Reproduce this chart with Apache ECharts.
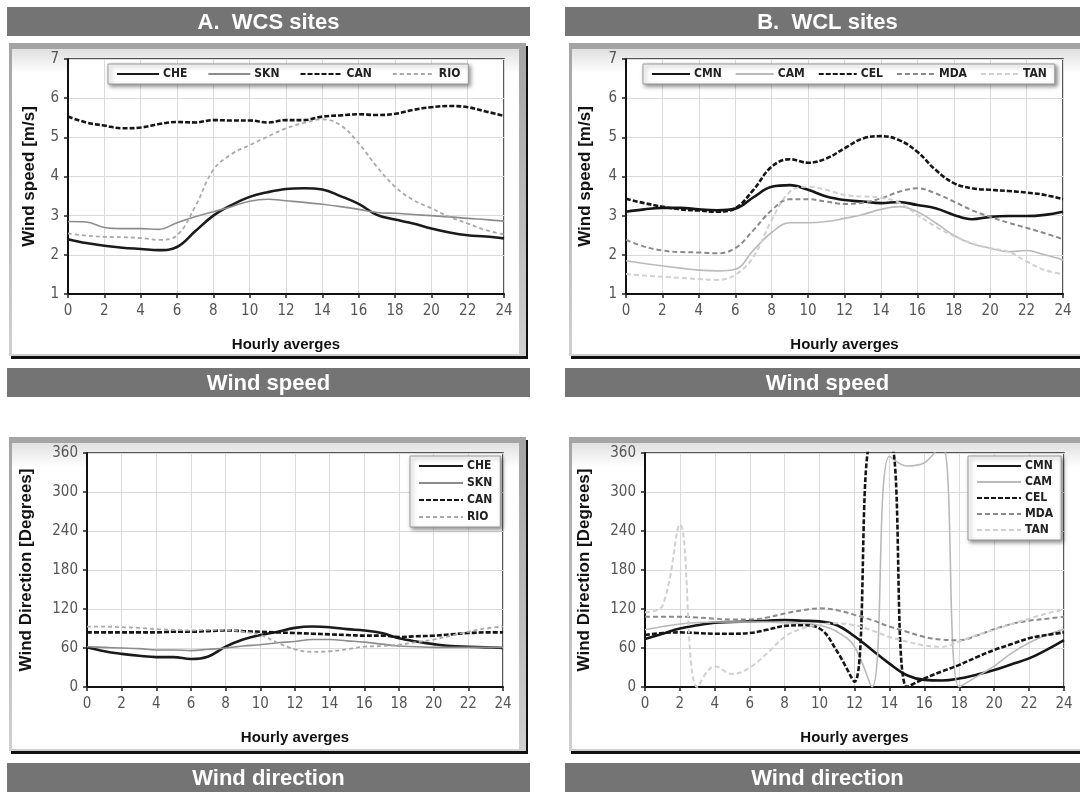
<!DOCTYPE html>
<html>
<head>
<meta charset="utf-8">
<title>Wind speed and direction</title>
<script src="https://cdn.jsdelivr.net/npm/echarts@6/dist/echarts.min.js"></script>
<style>
  html, body { margin: 0; padding: 0; background: #fff; }
  #chart { width: 1080px; height: 792px; }
</style>
</head>
<body>
<div id="chart"></div>
<script>
// hourly averages, 0..24 h
var hours = [0, 1, 2, 3, 4, 5, 6, 7, 8, 9, 10, 11, 12, 13, 14, 15, 16, 17, 18, 19, 20, 21, 22, 23, 24];
var speedTicks = [1, 7, 1];      // min, max, step
var dirTicks = [0, 360, 60];

// A. WCS sites - wind speed [m/s]
var cheSpeed = [2.40, 2.30, 2.23, 2.18, 2.15, 2.12, 2.20, 2.60, 3.00, 3.27, 3.48, 3.60, 3.68, 3.70, 3.67, 3.50, 3.30, 3.02, 2.90, 2.80, 2.67, 2.57, 2.50, 2.47, 2.42];
var sknSpeed = [2.85, 2.84, 2.70, 2.67, 2.67, 2.65, 2.82, 2.97, 3.10, 3.23, 3.37, 3.42, 3.38, 3.34, 3.29, 3.23, 3.16, 3.08, 3.06, 3.03, 3.00, 2.97, 2.93, 2.90, 2.86];
var canSpeed = [5.53, 5.38, 5.30, 5.23, 5.25, 5.34, 5.39, 5.38, 5.44, 5.43, 5.43, 5.38, 5.44, 5.44, 5.53, 5.56, 5.59, 5.57, 5.60, 5.70, 5.77, 5.80, 5.77, 5.66, 5.55];
var rioSpeed = [2.55, 2.49, 2.46, 2.45, 2.43, 2.38, 2.50, 3.23, 4.17, 4.57, 4.80, 5.02, 5.23, 5.37, 5.46, 5.31, 4.85, 4.25, 3.74, 3.40, 3.19, 2.97, 2.80, 2.63, 2.52];

// B. WCL sites - wind speed [m/s]
var cmnSpeed = [3.10, 3.16, 3.20, 3.20, 3.16, 3.14, 3.18, 3.47, 3.74, 3.78, 3.66, 3.49, 3.40, 3.36, 3.32, 3.35, 3.27, 3.19, 3.02, 2.91, 2.97, 2.99, 2.99, 3.02, 3.10];
var camSpeed = [1.85, 1.78, 1.72, 1.66, 1.61, 1.59, 1.63, 2.12, 2.57, 2.82, 2.82, 2.85, 2.93, 3.03, 3.16, 3.23, 3.10, 2.82, 2.50, 2.28, 2.17, 2.08, 2.11, 2.00, 1.87];
var celSpeed = [3.43, 3.32, 3.23, 3.16, 3.13, 3.10, 3.19, 3.66, 4.25, 4.44, 4.35, 4.46, 4.72, 4.97, 5.03, 4.93, 4.63, 4.17, 3.83, 3.70, 3.66, 3.63, 3.59, 3.53, 3.42];
var mdaSpeed = [2.38, 2.21, 2.11, 2.07, 2.06, 2.04, 2.17, 2.63, 3.14, 3.42, 3.42, 3.36, 3.30, 3.33, 3.44, 3.61, 3.70, 3.57, 3.36, 3.14, 2.97, 2.82, 2.69, 2.55, 2.40];
var tanSpeed = [1.51, 1.47, 1.44, 1.41, 1.38, 1.36, 1.49, 1.95, 2.89, 3.61, 3.74, 3.66, 3.53, 3.49, 3.46, 3.33, 3.02, 2.72, 2.48, 2.29, 2.17, 2.08, 1.83, 1.61, 1.51];

// A. WCS sites - wind direction [degrees]
var cheDir = [61, 55, 51, 48, 46, 46, 43, 47, 62, 73, 80, 85, 91, 93, 92, 89, 87, 83, 75, 70, 66, 63, 62, 61, 60];
var sknDir = [62, 61, 60, 59, 57, 57, 56, 58, 60, 63, 65, 68, 70, 73, 73, 71, 69, 66, 63, 62, 61, 61, 61, 61, 61];
var canDir = [84, 84, 84, 84, 84, 85, 85, 86, 87, 86, 85, 84, 83, 82, 81, 80, 79, 79, 77, 78, 79, 81, 83, 84, 84];
var rioDir = [93, 93, 92, 91, 89, 88, 87, 88, 88, 85, 80, 68, 58, 54, 55, 58, 62, 63, 65, 69, 73, 79, 85, 90, 93];

// B. WCL sites - wind direction [degrees] (values above 360 run off the top of the plot)
var cmnDir = [74, 82, 90, 95, 99, 100, 101, 102, 103, 102, 101, 95, 78, 57, 36, 18, 11, 10, 13, 19, 26, 35, 44, 57, 72];
var camDir = [88, 93, 97, 99, 100, 100, 100, 100, 99, 98, 95, 85, 62, 0, 355, 340, 345, 375, 0, 16, 32, 52, 68, 80, 89];
var celDir = [80, 83, 84, 83, 82, 82, 83, 88, 94, 95, 90, 55, 8, 380, 380, 0, 13, 24, 34, 46, 57, 66, 75, 80, 84];
var mdaDir = [108, 108, 108, 107, 105, 104, 104, 107, 113, 118, 121, 118, 111, 103, 93, 85, 77, 73, 72, 79, 89, 97, 102, 105, 108];
var tanDir = [115, 125, 250, 0, 32, 20, 30, 52, 77, 90, 96, 98, 95, 87, 77, 70, 64, 62, 70, 80, 88, 97, 105, 113, 119];

var wcsNames = ['CHE', 'SKN', 'CAN', 'RIO'];
var wclNames = ['CMN', 'CAM', 'CEL', 'MDA', 'TAN'];

var FONT = "'Liberation Sans', Arial, sans-serif";
var NARROW = "'Liberation Sans Narrow', 'DejaVu Sans Condensed', 'Liberation Sans', sans-serif";

// line look per station
var styles = {
    CHE: { color: '#1b1b1b', width: 2.6, type: 'solid' },
    SKN: { color: '#8c8c8c', width: 1.6, type: 'solid' },
    CAN: { color: '#151515', width: 2.6, type: [5, 2] },
    RIO: { color: '#a9a9a9', width: 1.8, type: [4, 3] },
    CMN: { color: '#161616', width: 2.6, type: 'solid' },
    CAM: { color: '#bababa', width: 1.6, type: 'solid' },
    CEL: { color: '#151515', width: 2.6, type: [5, 2] },
    MDA: { color: '#8a8a8a', width: 2.0, type: [5, 3] },
    TAN: { color: '#d0d0d0', width: 2.0, type: [5, 3] }
};

function pairs(vals) {
    return hours.map(function (h, i) { return [h, vals[i]]; });
}

function line(name, vals, idx) {
    var s = styles[name];
    return {
        name: name, type: 'line', xAxisIndex: idx, yAxisIndex: idx,
        data: pairs(vals), smooth: 0.4, symbol: 'none', clip: true,
        itemStyle: { color: s.color },
        lineStyle: { color: s.color, width: s.width, type: s.type }
    };
}

function xAxis(idx, gap) {
    return {
        type: 'value', gridIndex: idx, min: 0, max: 24, interval: 2,
        name: 'Hourly averges', nameLocation: 'middle', nameGap: gap,
        nameTextStyle: { fontFamily: FONT, fontWeight: 'bold', fontSize: 15, color: '#111' },
        axisLine: { onZero: false, lineStyle: { color: '#111', width: 2 } },
        axisTick: { length: 4, lineStyle: { color: '#222', width: 1.5 } },
        axisLabel: { fontFamily: NARROW, fontSize: 15, color: '#555', margin: 10 },
        splitLine: { show: true, lineStyle: { color: '#dadada', width: 1 } }
    };
}

function yAxis(idx, ticks, name, gap) {
    return {
        type: 'value', gridIndex: idx, min: ticks[0], max: ticks[1], interval: ticks[2],
        name: name, nameLocation: 'middle', nameGap: gap, nameRotate: 90,
        nameTextStyle: { fontFamily: FONT, fontWeight: 'bold', fontSize: 17, color: '#111' },
        axisLine: { show: true, onZero: false, lineStyle: { color: '#111', width: 2 } },
        axisTick: { show: true, length: 4, lineStyle: { color: '#222', width: 1.5 } },
        axisLabel: { fontFamily: NARROW, fontSize: 15, color: '#555', margin: 9 },
        splitLine: { show: true, lineStyle: { color: '#dadada', width: 1 } }
    };
}

// legend keys are plain line samples, no marker in the middle
function legend(names, pos, orient, gap, lineLen) {
    return Object.assign({
        data: names, orient: orient, itemGap: gap, itemWidth: lineLen, itemHeight: 10,
        padding: [4, 8], backgroundColor: '#fff', borderColor: '#9a9a9a', borderWidth: 1,
        shadowBlur: 4, shadowColor: 'rgba(0,0,0,0.45)', shadowOffsetX: 2, shadowOffsetY: 2,
        selectedMode: false,
        itemStyle: { opacity: 0 },
        textStyle: { fontFamily: NARROW, fontWeight: 'bold', fontSize: 12, color: '#222', padding: [0, 0, 0, -1] }
    }, pos);
}

function frame(x, y, w, h) {
    return [
        { type: 'rect', z: -10, silent: true, shape: { x: x + 2, y: y + 3, width: w, height: h },
          style: { fill: '#111' } },
        { type: 'rect', z: -9, silent: true, shape: { x: x, y: y, width: w, height: h },
          style: { fill: new echarts.graphic.LinearGradient(0, 0, 0, 1, [
              { offset: 0, color: '#a4a4a4' }, { offset: 1, color: '#d0d0d0' }]) } },
        { type: 'rect', z: -8, silent: true, shape: { x: x + 3, y: y + 6, width: w - 10, height: h - 8 },
          style: { fill: new echarts.graphic.LinearGradient(0, 0, 0, 1, [
              { offset: 0, color: '#e0e0e0' }, { offset: 0.08, color: '#ffffff' }, { offset: 1, color: '#ffffff' }]) } }
    ];
}

function bar(x, y, w, h, text) {
    return [
        { type: 'rect', z: -10, silent: true, shape: { x: x, y: y, width: w, height: h },
          style: { fill: '#747474' } },
        { type: 'text', z: -9, silent: true, x: x + w / 2, y: y + h / 2 + 1,
          style: { text: text, fill: '#fff', textAlign: 'center', textVerticalAlign: 'middle',
                   font: 'bold 22px ' + FONT } }
    ];
}

var chart = echarts.init(document.getElementById('chart'), null, { renderer: 'canvas' });

var graphics = [].concat(
    bar(7, 7, 523, 29, 'A.  WCS sites'),
    bar(565, 7, 525, 29, 'B.  WCL sites'),
    frame(9, 43, 517, 313),
    frame(569, 43, 520, 313),
    bar(7, 368, 523, 29, 'Wind speed'),
    bar(565, 368, 525, 29, 'Wind speed'),
    frame(9, 437, 517, 314),
    frame(569, 437, 520, 314),
    bar(7, 763, 523, 29, 'Wind direction'),
    bar(565, 763, 525, 29, 'Wind direction')
);

var gridBox = { show: true, backgroundColor: '#fff', borderColor: '#222', borderWidth: 1.5, outerBoundsMode: 'none', containLabel: false };

var option = {
    animation: false,
    graphic: { elements: graphics },
    grid: [
        Object.assign({ left: 68, top: 59, width: 436, height: 235 }, gridBox),
        Object.assign({ left: 626, top: 59, width: 437, height: 235 }, gridBox),
        Object.assign({ left: 87, top: 453, width: 416, height: 234 }, gridBox),
        Object.assign({ left: 645, top: 453, width: 419, height: 234 }, gridBox)
    ],
    xAxis: [xAxis(0, 43), xAxis(1, 43), xAxis(2, 43), xAxis(3, 43)],
    yAxis: [
        yAxis(0, speedTicks, 'Wind speed [m/s]', 30),
        yAxis(1, speedTicks, 'Wind speed [m/s]', 32),
        yAxis(2, dirTicks, 'Wind Direction [Degrees]', 52),
        yAxis(3, dirTicks, 'Wind Direction [Degrees]', 52)
    ],
    legend: [
        legend(wcsNames, { left: 108, top: 64 }, 'horizontal', 20, 42),
        legend(wclNames, { left: 643, top: 64 }, 'horizontal', 13, 38),
        legend(wcsNames, { left: 410, top: 456 }, 'vertical', 5, 44),
        legend(wclNames, { left: 968, top: 456 }, 'vertical', 4, 44)
    ],
    series: [
        line('CHE', cheSpeed, 0), line('SKN', sknSpeed, 0), line('CAN', canSpeed, 0), line('RIO', rioSpeed, 0),
        line('CMN', cmnSpeed, 1), line('CAM', camSpeed, 1), line('CEL', celSpeed, 1), line('MDA', mdaSpeed, 1), line('TAN', tanSpeed, 1),
        line('CHE', cheDir, 2), line('SKN', sknDir, 2), line('CAN', canDir, 2), line('RIO', rioDir, 2),
        line('CMN', cmnDir, 3), line('CAM', camDir, 3), line('CEL', celDir, 3), line('MDA', mdaDir, 3), line('TAN', tanDir, 3)
    ]
};

chart.setOption(option);
</script>
</body>
</html>
